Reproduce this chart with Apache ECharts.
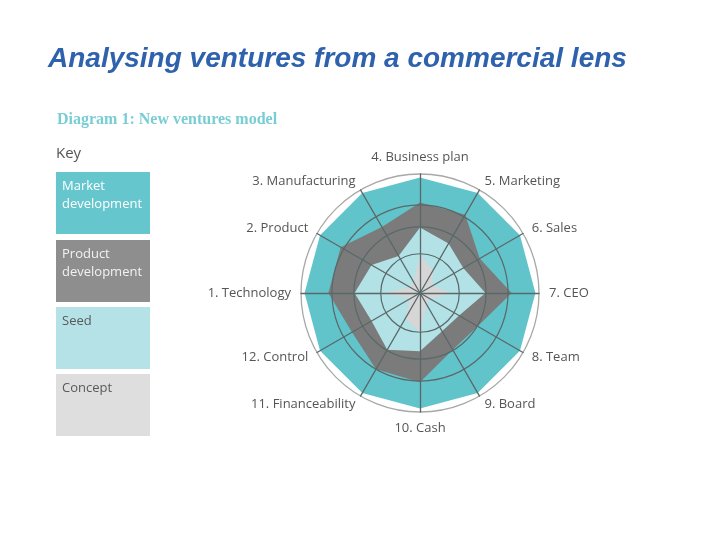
<!DOCTYPE html>
<html>
<head>
<meta charset="utf-8">
<script src="https://cdn.jsdelivr.net/npm/echarts@6/dist/echarts.min.js"></script>
<style>
  html, body { margin: 0; padding: 0; background: #fff; }
  #chart { width: 728px; height: 546px; }
</style>
</head>
<body>
<div id="chart"></div>
<script>
// axes, counter-clockwise from the top
const indicators = ['4. Business plan', '3. Manufacturing', '2. Product', '1. Technology',
  '12. Control', '11. Financeability', '10. Cash', '9. Board', '8. Team', '7. CEO',
  '6. Sales', '5. Marketing']

const stageNames = ['Market development', 'Product development', 'Seed', 'Concept']
const marketDev = [97, 97, 97, 97, 97, 97, 97, 97, 97, 97, 97, 97]
const productDev = [76, 64, 77, 77, 66, 74, 75, 55, 56, 77, 58, 76]
const seed = [55, 36, 47, 55, 47, 55, 49, 37, 38, 55, 42, 48]
const concept = [32, 11, 10, 30, 10, 25, 33, 11, 10, 27, 12, 22]

// inner rings of the diagram (share of the outer circle)
const ringShares = [0.33, 0.555, 0.74]

const stageColors = ['#62c4cb', '#7b7b7b', '#b2e1e6', '#d6d6d6']
const keyColors = ['#66c6cd', '#8e8e8e', '#b5e2e7', '#dedede']
const keyText = [['Market', 'development'], ['Product', 'development'], ['Seed'], ['Concept']]
const keyTextColors = ['#ffffff', '#f2f2f2', '#5a5a5a', '#5a5a5a']

const center = [420, 293]
const R = 119

const chart = echarts.init(document.getElementById('chart'))

const radars = [{
  indicator: indicators.map(n => ({ name: n, min: 0, max: 100 })),
  center: center,
  radius: R,
  shape: 'circle',
  startAngle: 90,
  splitNumber: 1,
  z: 5,
  nameGap: 10,
  axisName: { color: '#555', fontSize: 13, fontFamily: 'Open Sans' },
  axisLine: { lineStyle: { color: '#5a6868', width: 1.3 } },
  splitLine: { lineStyle: { color: '#a8a8a8', width: 1.3 } },
  splitArea: { show: false }
}]
ringShares.forEach(s => {
  radars.push({
    indicator: indicators.map(n => ({ name: n, min: 0, max: 100 })),
    center: center,
    radius: R * s,
    shape: 'circle',
    splitNumber: 1,
    z: 5,
    axisName: { show: false },
    axisLine: { show: false },
    axisTick: { show: false },
    axisLabel: { show: false },
    splitLine: { lineStyle: { color: '#5a6868', width: 1.2 } },
    splitArea: { show: false }
  })
})

const keyGraphics = []
const keyTop = [172, 240, 307, 374]
keyTop.forEach((y, i) => {
  keyGraphics.push({
    type: 'rect',
    left: 56, top: y,
    shape: { width: 94, height: 62 },
    style: { fill: keyColors[i] }
  })
  keyGraphics.push({
    type: 'text',
    left: 62, top: y + 5,
    style: {
      text: keyText[i].join('\n'),
      fill: keyTextColors[i],
      font: '13px "Open Sans"',
      lineHeight: 18
    }
  })
})

chart.setOption({
  backgroundColor: '#fff',
  animation: false,
  title: {
    text: 'Analysing ventures from a commercial lens',
    left: 43, top: 40,
    textStyle: {
      color: '#2f62ad', fontSize: 28, fontWeight: 'bold',
      fontStyle: 'italic', fontFamily: 'Liberation Sans'
    }
  },
  graphic: [
    {
      type: 'text', left: 57, top: 112,
      style: {
        text: 'Diagram 1: New ventures model',
        fill: '#79cdd4', font: 'bold 16px "Liberation Serif"'
      }
    },
    {
      type: 'text', left: 56, top: 146,
      style: { text: 'Key', fill: '#555', font: '15px "Open Sans"' }
    }
  ].concat(keyGraphics),
  radar: radars,
  series: [{
    type: 'radar',
    radarIndex: 0,
    symbol: 'none',
    z: 2,
    data: [marketDev, productDev, seed, concept].map((v, i) => ({
      name: stageNames[i],
      value: v,
      lineStyle: { width: 0, color: stageColors[i] },
      areaStyle: { color: stageColors[i], opacity: 1 }
    }))
  }]
})
</script>
</body>
</html>
